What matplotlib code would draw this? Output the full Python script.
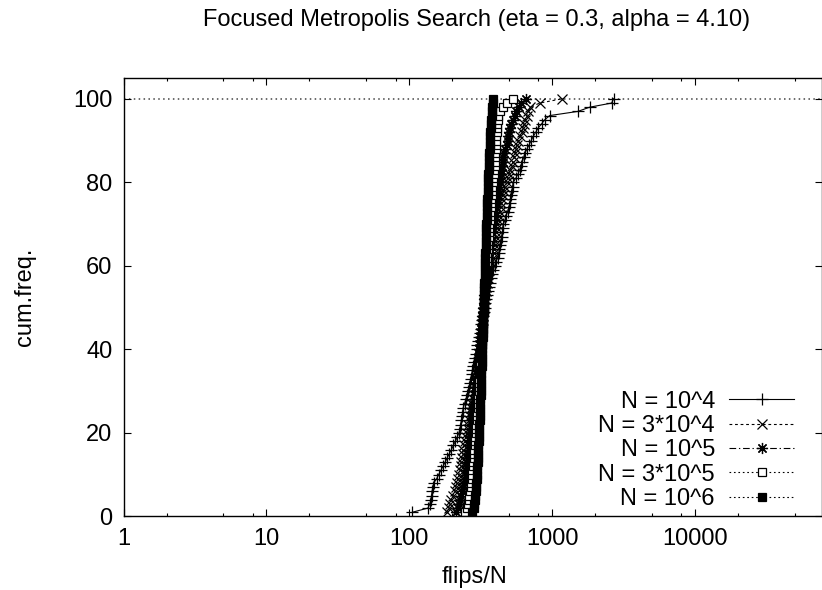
import numpy as np
import matplotlib
matplotlib.use("Agg")
import matplotlib.pyplot as plt
from matplotlib.ticker import FixedLocator, NullFormatter

plt.rcParams['font.family'] = ['Liberation Sans', 'DejaVu Sans']

# ----- datos: flips/N ordenados (una muestra por percentil) -----
labels = ["N = 10^4", "N = 3*10^4", "N = 10^5", "N = 3*10^5", "N = 10^6"]

flips_1e4 = [105, 135, 139, 141, 143, 144, 146, 148, 155, 160,
             166, 172, 178, 184, 190, 197, 203, 210, 216, 222,
             226, 228, 231, 233, 236, 238, 243, 248, 253, 258,
             262, 265, 268, 272, 276, 280, 284, 288, 292, 296,
             299, 302, 306, 310, 315, 319, 323, 327, 331, 336,
             340, 345, 350, 355, 361, 368, 374, 380, 387, 395,
             404, 415, 421, 426, 431, 436, 441, 447, 451, 455,
             466, 476, 486, 495, 503, 509, 515, 521, 527, 532,
             555, 575, 591, 605, 618, 630, 643, 665, 688, 711,
             735, 765, 795, 840, 885, 958, 1510, 1820, 2600, 2680]

flips_3e4 = [182, 188, 192, 197, 202, 207, 211, 215, 219, 222,
             225, 228, 231, 234, 236, 238, 242, 246, 250, 253,
             256, 259, 262, 265, 268, 271, 275, 279, 283, 287,
             291, 295, 297, 299, 301, 303, 305, 307, 309, 311,
             313, 315, 317, 319, 321, 323, 325, 327, 329, 331,
             333, 336, 339, 342, 345, 348, 352, 356, 360, 365,
             372, 385, 389, 393, 396, 399, 402, 405, 407, 412,
             418, 424, 430, 435, 440, 446, 452, 461, 469, 478,
             488, 498, 509, 520, 530, 541, 552, 558, 563, 579,
             595, 610, 626, 636, 646, 660, 680, 700, 816, 1160]

flips_1e5 = [213, 218, 223, 227, 231, 235, 238, 241, 244, 247,
             250, 252, 254, 256, 258, 260, 262, 264, 266, 268,
             270, 272, 274, 276, 278, 280, 282, 284, 286, 288,
             290, 292, 294, 296, 298, 300, 302, 304, 306, 308,
             310, 312, 314, 316, 318, 320, 322, 324, 326, 328,
             330, 332, 334, 336, 338, 341, 344, 347, 350, 353,
             356, 359, 362, 365, 368, 371, 374, 378, 382, 386,
             390, 394, 398, 402, 406, 410, 415, 420, 425, 430,
             433, 436, 439, 444, 449, 454, 459, 468, 478, 487,
             493, 498, 503, 517, 531, 546, 561, 580, 605, 658]

flips_3e5 = [246, 252, 256, 260, 263, 266, 268, 270, 272, 274,
             276, 278, 280, 282, 283, 285, 286, 288, 289, 291,
             292, 294, 295, 297, 298, 300, 301, 302, 304, 305,
             306, 308, 309, 310, 312, 313, 314, 316, 317, 318,
             320, 321, 322, 324, 325, 326, 328, 329, 330, 332,
             333, 334, 336, 337, 339, 340, 342, 343, 345, 346,
             348, 349, 351, 353, 354, 356, 358, 359, 361, 363,
             365, 367, 369, 371, 373, 375, 377, 379, 381, 384,
             386, 389, 391, 394, 396, 398, 400, 402, 403, 404,
             405, 407, 409, 411, 414, 418, 430, 455, 478, 532]

flips_1e6 = [276, 281, 284, 287, 289, 291, 293, 294, 296, 297,
             298, 299, 300, 301, 302, 303, 304, 305, 306, 307,
             308, 309, 310, 310, 311, 312, 313, 314, 315, 315,
             316, 317, 318, 318, 319, 320, 321, 321, 322, 323,
             324, 324, 325, 326, 327, 327, 328, 329, 330, 330,
             331, 332, 333, 333, 334, 335, 336, 336, 337, 338,
             339, 339, 340, 341, 342, 343, 343, 344, 345, 346,
             347, 347, 348, 349, 350, 351, 352, 353, 354, 355,
             356, 357, 358, 359, 360, 361, 362, 364, 365, 366,
             368, 369, 371, 373, 375, 377, 379, 381, 384, 387]

series = [flips_1e4, flips_3e4, flips_1e5, flips_3e5, flips_1e6]

# estilo tipo gnuplot (blanco y negro)
estilos = [
    dict(ls='-', marker='+', ms=8, mfc='black'),
    dict(ls=(0, (2.5, 2.5)), marker='x', ms=6.5, mfc='black'),
    dict(ls=(0, (6, 2.5, 1.2, 2.5)), marker=(8, 2, 0), ms=8, mfc='black'),
    dict(ls=(0, (1.5, 2.5)), marker='s', ms=5.5, mfc='white'),
    dict(ls=(0, (1.5, 2.5)), marker='s', ms=5.5, mfc='black'),
]

fs = 17
fig = plt.figure(figsize=(8.22, 5.90), dpi=100)
ax = fig.add_axes([123.5 / 822, 73.6 / 590, (822 - 123.5) / 822, (516.4 - 78) / 590])

for vals, lab, st in zip(series, labels, estilos):
    x = np.sort(np.array(vals, dtype=float))
    y = 100.0 * np.arange(1, len(x) + 1) / len(x)   # frecuencia acumulada
    ax.plot(x, y, color='black', lw=0.8, ls=st['ls'], marker=st['marker'],
            ms=st['ms'], mew=0.9, mec='black', mfc=st['mfc'], label=lab)

ax.axhline(100, color='#444444', lw=1.1, ls=(0, (1, 2.2)), zorder=0)

ax.set_xscale('log')
ax.set_xlim(1, 77000)
ax.set_ylim(0, 105)

ax.xaxis.set_major_locator(FixedLocator([1, 10, 100, 1000, 10000]))
ax.xaxis.set_minor_locator(FixedLocator([m * 10.0 ** k for k in range(0, 5) for m in (2, 5, 8)]))
ax.xaxis.set_minor_formatter(NullFormatter())
ax.set_xticklabels(['1', '10', '100', '1000', '10000'])
ax.set_yticks([0, 20, 40, 60, 80, 100])

ax.tick_params(which='both', direction='in', top=True, right=True, labelsize=fs, pad=8)
ax.tick_params(which='major', length=5, width=0.8)
ax.tick_params(which='minor', length=2.5, width=0.8)
for s in ax.spines.values():
    s.set_linewidth(1.0)

fig.text(0.58, 1 - 20 / 590, 'Focused Metropolis Search (eta = 0.3, alpha = 4.10)',
         ha='center', va='center', fontsize=fs)
fig.text(474 / 822, 1 - 577 / 590, 'flips/N', ha='center', va='center', fontsize=fs)
fig.text(25 / 822, 1 - 297 / 590, 'cum.freq.', ha='center', va='center',
         rotation=90, fontsize=fs)

leg = ax.legend(loc='lower right', bbox_to_anchor=(794 / 822, 1 - 510 / 590),
                bbox_transform=fig.transFigure, frameon=False, markerfirst=False,
                fontsize=fs, handlelength=2.75, handletextpad=0.6, labelspacing=0.1,
                borderpad=0, borderaxespad=0, numpoints=1)
for t in leg.get_texts():
    t.set_ha('right')

fig.savefig('out.png', dpi=100)
